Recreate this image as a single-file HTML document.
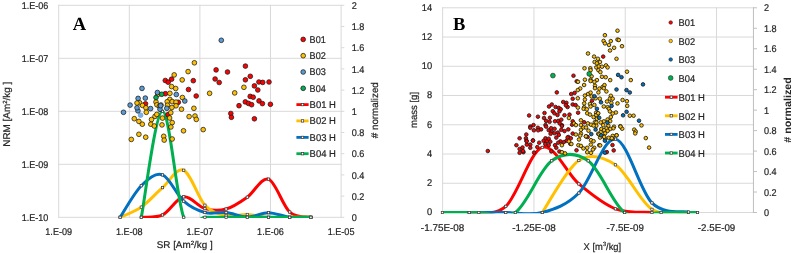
<!DOCTYPE html>
<html><head><meta charset="utf-8"><style>
html,body{margin:0;padding:0;background:#fff;width:794px;height:253px;overflow:hidden;}
svg{display:block;will-change:transform;text-rendering:geometricPrecision;}
</style></head><body>
<svg width="794" height="253" viewBox="0 0 794 253"><line x1="58.2" y1="5.3" x2="341.6" y2="5.3" stroke="#d9d9d9" stroke-width="1"/>
<line x1="58.2" y1="58.3" x2="341.6" y2="58.3" stroke="#d9d9d9" stroke-width="1"/>
<line x1="58.2" y1="111.3" x2="341.6" y2="111.3" stroke="#d9d9d9" stroke-width="1"/>
<line x1="58.2" y1="164.3" x2="341.6" y2="164.3" stroke="#d9d9d9" stroke-width="1"/>
<line x1="58.2" y1="217.3" x2="341.6" y2="217.3" stroke="#d9d9d9" stroke-width="1"/>
<line x1="58.7" y1="4.8" x2="58.7" y2="217.8" stroke="#d9d9d9" stroke-width="1"/>
<line x1="129.3" y1="4.8" x2="129.3" y2="217.8" stroke="#d9d9d9" stroke-width="1"/>
<line x1="199.9" y1="4.8" x2="199.9" y2="217.8" stroke="#d9d9d9" stroke-width="1"/>
<line x1="270.5" y1="4.8" x2="270.5" y2="217.8" stroke="#d9d9d9" stroke-width="1"/>
<line x1="341.1" y1="4.8" x2="341.1" y2="217.8" stroke="#d9d9d9" stroke-width="1"/>
<line x1="341.1" y1="217.3" x2="344.3" y2="217.3" stroke="#d9d9d9" stroke-width="1"/>
<line x1="341.1" y1="196.1" x2="344.3" y2="196.1" stroke="#d9d9d9" stroke-width="1"/>
<line x1="341.1" y1="174.9" x2="344.3" y2="174.9" stroke="#d9d9d9" stroke-width="1"/>
<line x1="341.1" y1="153.7" x2="344.3" y2="153.7" stroke="#d9d9d9" stroke-width="1"/>
<line x1="341.1" y1="132.5" x2="344.3" y2="132.5" stroke="#d9d9d9" stroke-width="1"/>
<line x1="341.1" y1="111.3" x2="344.3" y2="111.3" stroke="#d9d9d9" stroke-width="1"/>
<line x1="341.1" y1="90.1" x2="344.3" y2="90.1" stroke="#d9d9d9" stroke-width="1"/>
<line x1="341.1" y1="68.9" x2="344.3" y2="68.9" stroke="#d9d9d9" stroke-width="1"/>
<line x1="341.1" y1="47.7" x2="344.3" y2="47.7" stroke="#d9d9d9" stroke-width="1"/>
<line x1="341.1" y1="26.5" x2="344.3" y2="26.5" stroke="#d9d9d9" stroke-width="1"/>
<line x1="341.1" y1="5.3" x2="344.3" y2="5.3" stroke="#d9d9d9" stroke-width="1"/>
<text x="48.4" y="9.1" font-family='"Liberation Sans", sans-serif' font-size="9.8" font-weight="normal" fill="#262626" text-anchor="end" textLength="26.6" lengthAdjust="spacingAndGlyphs" stroke="#262626" stroke-width="0.22">1.E-06</text>
<text x="48.4" y="62.1" font-family='"Liberation Sans", sans-serif' font-size="9.8" font-weight="normal" fill="#262626" text-anchor="end" textLength="26.6" lengthAdjust="spacingAndGlyphs" stroke="#262626" stroke-width="0.22">1.E-07</text>
<text x="48.4" y="115.1" font-family='"Liberation Sans", sans-serif' font-size="9.8" font-weight="normal" fill="#262626" text-anchor="end" textLength="26.6" lengthAdjust="spacingAndGlyphs" stroke="#262626" stroke-width="0.22">1.E-08</text>
<text x="48.4" y="168.1" font-family='"Liberation Sans", sans-serif' font-size="9.8" font-weight="normal" fill="#262626" text-anchor="end" textLength="26.6" lengthAdjust="spacingAndGlyphs" stroke="#262626" stroke-width="0.22">1.E-09</text>
<text x="48.4" y="221.1" font-family='"Liberation Sans", sans-serif' font-size="9.8" font-weight="normal" fill="#262626" text-anchor="end" textLength="26.6" lengthAdjust="spacingAndGlyphs" stroke="#262626" stroke-width="0.22">1.E-10</text>
<text x="351.7" y="220.9" font-family='"Liberation Sans", sans-serif' font-size="9.8" font-weight="normal" fill="#262626" text-anchor="start" textLength="5.07" lengthAdjust="spacingAndGlyphs" stroke="#262626" stroke-width="0.22">0</text>
<text x="351.7" y="199.7" font-family='"Liberation Sans", sans-serif' font-size="9.8" font-weight="normal" fill="#262626" text-anchor="start" textLength="12.67" lengthAdjust="spacingAndGlyphs" stroke="#262626" stroke-width="0.22">0.2</text>
<text x="351.7" y="178.5" font-family='"Liberation Sans", sans-serif' font-size="9.8" font-weight="normal" fill="#262626" text-anchor="start" textLength="12.67" lengthAdjust="spacingAndGlyphs" stroke="#262626" stroke-width="0.22">0.4</text>
<text x="351.7" y="157.3" font-family='"Liberation Sans", sans-serif' font-size="9.8" font-weight="normal" fill="#262626" text-anchor="start" textLength="12.67" lengthAdjust="spacingAndGlyphs" stroke="#262626" stroke-width="0.22">0.6</text>
<text x="351.7" y="136.1" font-family='"Liberation Sans", sans-serif' font-size="9.8" font-weight="normal" fill="#262626" text-anchor="start" textLength="12.67" lengthAdjust="spacingAndGlyphs" stroke="#262626" stroke-width="0.22">0.8</text>
<text x="351.7" y="114.9" font-family='"Liberation Sans", sans-serif' font-size="9.8" font-weight="normal" fill="#262626" text-anchor="start" textLength="5.07" lengthAdjust="spacingAndGlyphs" stroke="#262626" stroke-width="0.22">1</text>
<text x="351.7" y="93.7" font-family='"Liberation Sans", sans-serif' font-size="9.8" font-weight="normal" fill="#262626" text-anchor="start" textLength="12.67" lengthAdjust="spacingAndGlyphs" stroke="#262626" stroke-width="0.22">1.2</text>
<text x="351.7" y="72.5" font-family='"Liberation Sans", sans-serif' font-size="9.8" font-weight="normal" fill="#262626" text-anchor="start" textLength="12.67" lengthAdjust="spacingAndGlyphs" stroke="#262626" stroke-width="0.22">1.4</text>
<text x="351.7" y="51.3" font-family='"Liberation Sans", sans-serif' font-size="9.8" font-weight="normal" fill="#262626" text-anchor="start" textLength="12.67" lengthAdjust="spacingAndGlyphs" stroke="#262626" stroke-width="0.22">1.6</text>
<text x="351.7" y="30.1" font-family='"Liberation Sans", sans-serif' font-size="9.8" font-weight="normal" fill="#262626" text-anchor="start" textLength="12.67" lengthAdjust="spacingAndGlyphs" stroke="#262626" stroke-width="0.22">1.8</text>
<text x="351.7" y="8.9" font-family='"Liberation Sans", sans-serif' font-size="9.8" font-weight="normal" fill="#262626" text-anchor="start" textLength="5.07" lengthAdjust="spacingAndGlyphs" stroke="#262626" stroke-width="0.22">2</text>
<text x="58.7" y="234.7" font-family='"Liberation Sans", sans-serif' font-size="9.8" font-weight="normal" fill="#262626" text-anchor="middle" textLength="26.8" lengthAdjust="spacingAndGlyphs" stroke="#262626" stroke-width="0.22">1.E-09</text>
<text x="129.3" y="234.7" font-family='"Liberation Sans", sans-serif' font-size="9.8" font-weight="normal" fill="#262626" text-anchor="middle" textLength="26.8" lengthAdjust="spacingAndGlyphs" stroke="#262626" stroke-width="0.22">1.E-08</text>
<text x="199.9" y="234.7" font-family='"Liberation Sans", sans-serif' font-size="9.8" font-weight="normal" fill="#262626" text-anchor="middle" textLength="26.8" lengthAdjust="spacingAndGlyphs" stroke="#262626" stroke-width="0.22">1.E-07</text>
<text x="270.5" y="234.7" font-family='"Liberation Sans", sans-serif' font-size="9.8" font-weight="normal" fill="#262626" text-anchor="middle" textLength="26.8" lengthAdjust="spacingAndGlyphs" stroke="#262626" stroke-width="0.22">1.E-06</text>
<text x="341.1" y="234.7" font-family='"Liberation Sans", sans-serif' font-size="9.8" font-weight="normal" fill="#262626" text-anchor="middle" textLength="26.8" lengthAdjust="spacingAndGlyphs" stroke="#262626" stroke-width="0.22">1.E-05</text>
<text x="184.7" y="248.3" font-family='"Liberation Sans", sans-serif' font-size="9.8" font-weight="normal" fill="#262626" text-anchor="middle" textLength="56" lengthAdjust="spacingAndGlyphs" stroke="#262626" stroke-width="0.22">SR [Am<tspan font-size="6" dy="-3.2">2</tspan><tspan dy="3.2">/kg ]</tspan></text>
<text x="9.7" y="114.2" font-family='"Liberation Sans", sans-serif' font-size="9.8" font-weight="normal" fill="#262626" text-anchor="middle" transform="rotate(-90 9.7 114.2)" textLength="65.2" lengthAdjust="spacingAndGlyphs" stroke="#262626" stroke-width="0.22">NRM [Am<tspan font-size="6" dy="-3.2">2</tspan><tspan dy="3.2">/kg ]</tspan></text>
<text x="377.7" y="110.2" font-family='"Liberation Sans", sans-serif' font-size="9.8" font-weight="normal" fill="#262626" text-anchor="middle" transform="rotate(-90 377.7 110.2)" textLength="56" lengthAdjust="spacingAndGlyphs" stroke="#262626" stroke-width="0.22"># normalized</text>
<text x="79.5" y="29.9" font-family='"Liberation Serif", serif' font-size="18.5" font-weight="bold" fill="#000" text-anchor="middle">A</text>
<clipPath id="ca"><rect x="58.7" y="5.3" width="282.4" height="212.7"/></clipPath>
<g clip-path="url(#ca)">
<path d="M141.3 217.3 C144.83 216.91 155.43 218.38 162.5 214.97 C169.57 211.56 176.63 197.9 183.7 196.84 C190.77 195.78 197.83 206.58 204.9 208.61 C211.97 210.64 219.03 210.94 226.1 209.03 C233.17 207.12 240.23 202.14 247.3 197.16 C254.37 192.18 261.43 176.67 268.5 179.14 C275.57 181.61 282.63 205.64 289.7 212 C296.77 218.36 307.37 216.42 310.9 217.3" fill="none" stroke="#ff0000" stroke-width="3.0" stroke-linecap="round" stroke-linejoin="round"/>
<path d="M120.1 217.3 C123.63 215.6 134.23 212.07 141.3 207.12 C148.37 202.18 155.43 193.77 162.5 187.62 C169.57 181.47 176.63 167.3 183.7 170.24 C190.77 173.17 197.83 197.69 204.9 205.22 C211.97 212.74 219.03 213.86 226.1 215.39 C233.17 216.93 240.23 214.12 247.3 214.44 C254.37 214.76 261.43 216.82 268.5 217.3 C275.57 217.78 282.63 217.3 289.7 217.3 C296.77 217.3 307.37 217.3 310.9 217.3" fill="none" stroke="#ffc000" stroke-width="3.0" stroke-linecap="round" stroke-linejoin="round"/>
<path d="M120.1 217.3 C123.63 212.04 134.23 192.78 141.3 185.71 C148.37 178.65 155.43 172.32 162.5 174.9 C169.57 177.48 176.63 194.92 183.7 201.19 C190.77 207.46 197.83 210.64 204.9 212.53 C211.97 214.42 219.03 211.79 226.1 212.53 C233.17 213.27 240.23 216.96 247.3 216.98 C254.37 217 261.43 212.58 268.5 212.64 C275.57 212.69 282.63 216.52 289.7 217.3 C296.77 218.08 307.37 217.3 310.9 217.3" fill="none" stroke="#0070c0" stroke-width="3.0" stroke-linecap="round" stroke-linejoin="round"/>
<path d="M141.3 217.3 C144.83 199.63 155.43 111.3 162.5 111.3 C169.57 111.3 176.63 199.63 183.7 217.3 C190.77 234.97 197.83 217.3 204.9 217.3 C211.97 217.3 219.03 217.3 226.1 217.3 C233.17 217.3 240.23 217.3 247.3 217.3 C254.37 217.3 261.43 217.3 268.5 217.3 C275.57 217.3 282.63 217.3 289.7 217.3 C296.77 217.3 307.37 217.3 310.9 217.3" fill="none" stroke="#00b050" stroke-width="3.0" stroke-linecap="round" stroke-linejoin="round"/>
</g>
<rect x="140.15" y="216.15" width="2.3" height="2.3" fill="#fff" stroke="#3a3a3a" stroke-width="0.7"/>
<rect x="161.35" y="213.82" width="2.3" height="2.3" fill="#fff" stroke="#3a3a3a" stroke-width="0.7"/>
<rect x="182.55" y="195.69" width="2.3" height="2.3" fill="#fff" stroke="#3a3a3a" stroke-width="0.7"/>
<rect x="203.75" y="207.46" width="2.3" height="2.3" fill="#fff" stroke="#3a3a3a" stroke-width="0.7"/>
<rect x="224.95" y="207.88" width="2.3" height="2.3" fill="#fff" stroke="#3a3a3a" stroke-width="0.7"/>
<rect x="246.15" y="196.01" width="2.3" height="2.3" fill="#fff" stroke="#3a3a3a" stroke-width="0.7"/>
<rect x="267.35" y="177.99" width="2.3" height="2.3" fill="#fff" stroke="#3a3a3a" stroke-width="0.7"/>
<rect x="288.55" y="210.85" width="2.3" height="2.3" fill="#fff" stroke="#3a3a3a" stroke-width="0.7"/>
<rect x="309.75" y="216.15" width="2.3" height="2.3" fill="#fff" stroke="#3a3a3a" stroke-width="0.7"/>
<rect x="118.95" y="216.15" width="2.3" height="2.3" fill="#fff" stroke="#3a3a3a" stroke-width="0.7"/>
<rect x="140.15" y="205.97" width="2.3" height="2.3" fill="#fff" stroke="#3a3a3a" stroke-width="0.7"/>
<rect x="161.35" y="186.47" width="2.3" height="2.3" fill="#fff" stroke="#3a3a3a" stroke-width="0.7"/>
<rect x="182.55" y="169.09" width="2.3" height="2.3" fill="#fff" stroke="#3a3a3a" stroke-width="0.7"/>
<rect x="203.75" y="204.07" width="2.3" height="2.3" fill="#fff" stroke="#3a3a3a" stroke-width="0.7"/>
<rect x="224.95" y="214.24" width="2.3" height="2.3" fill="#fff" stroke="#3a3a3a" stroke-width="0.7"/>
<rect x="246.15" y="213.29" width="2.3" height="2.3" fill="#fff" stroke="#3a3a3a" stroke-width="0.7"/>
<rect x="267.35" y="216.15" width="2.3" height="2.3" fill="#fff" stroke="#3a3a3a" stroke-width="0.7"/>
<rect x="288.55" y="216.15" width="2.3" height="2.3" fill="#fff" stroke="#3a3a3a" stroke-width="0.7"/>
<rect x="309.75" y="216.15" width="2.3" height="2.3" fill="#fff" stroke="#3a3a3a" stroke-width="0.7"/>
<rect x="118.95" y="216.15" width="2.3" height="2.3" fill="#fff" stroke="#3a3a3a" stroke-width="0.7"/>
<rect x="140.15" y="184.56" width="2.3" height="2.3" fill="#fff" stroke="#3a3a3a" stroke-width="0.7"/>
<rect x="161.35" y="173.75" width="2.3" height="2.3" fill="#fff" stroke="#3a3a3a" stroke-width="0.7"/>
<rect x="182.55" y="200.04" width="2.3" height="2.3" fill="#fff" stroke="#3a3a3a" stroke-width="0.7"/>
<rect x="203.75" y="211.38" width="2.3" height="2.3" fill="#fff" stroke="#3a3a3a" stroke-width="0.7"/>
<rect x="224.95" y="211.38" width="2.3" height="2.3" fill="#fff" stroke="#3a3a3a" stroke-width="0.7"/>
<rect x="246.15" y="215.83" width="2.3" height="2.3" fill="#fff" stroke="#3a3a3a" stroke-width="0.7"/>
<rect x="267.35" y="211.49" width="2.3" height="2.3" fill="#fff" stroke="#3a3a3a" stroke-width="0.7"/>
<rect x="288.55" y="216.15" width="2.3" height="2.3" fill="#fff" stroke="#3a3a3a" stroke-width="0.7"/>
<rect x="309.75" y="216.15" width="2.3" height="2.3" fill="#fff" stroke="#3a3a3a" stroke-width="0.7"/>
<rect x="140.15" y="216.15" width="2.3" height="2.3" fill="#fff" stroke="#3a3a3a" stroke-width="0.7"/>
<rect x="161.35" y="110.15" width="2.3" height="2.3" fill="#fff" stroke="#3a3a3a" stroke-width="0.7"/>
<rect x="182.55" y="216.15" width="2.3" height="2.3" fill="#fff" stroke="#3a3a3a" stroke-width="0.7"/>
<rect x="203.75" y="216.15" width="2.3" height="2.3" fill="#fff" stroke="#3a3a3a" stroke-width="0.7"/>
<rect x="224.95" y="216.15" width="2.3" height="2.3" fill="#fff" stroke="#3a3a3a" stroke-width="0.7"/>
<rect x="246.15" y="216.15" width="2.3" height="2.3" fill="#fff" stroke="#3a3a3a" stroke-width="0.7"/>
<rect x="267.35" y="216.15" width="2.3" height="2.3" fill="#fff" stroke="#3a3a3a" stroke-width="0.7"/>
<rect x="288.55" y="216.15" width="2.3" height="2.3" fill="#fff" stroke="#3a3a3a" stroke-width="0.7"/>
<rect x="309.75" y="216.15" width="2.3" height="2.3" fill="#fff" stroke="#3a3a3a" stroke-width="0.7"/>
<circle cx="216.1" cy="69.9" r="2.35" fill="#ff0000" stroke="#1a1a1a" stroke-width="0.75"/>
<circle cx="227.5" cy="72" r="2.35" fill="#ff0000" stroke="#1a1a1a" stroke-width="0.75"/>
<circle cx="245.4" cy="66.1" r="2.35" fill="#ff0000" stroke="#1a1a1a" stroke-width="0.75"/>
<circle cx="215.1" cy="79" r="2.35" fill="#ff0000" stroke="#1a1a1a" stroke-width="0.75"/>
<circle cx="219.2" cy="82.5" r="2.35" fill="#ff0000" stroke="#1a1a1a" stroke-width="0.75"/>
<circle cx="250.3" cy="76.3" r="2.35" fill="#ff0000" stroke="#1a1a1a" stroke-width="0.75"/>
<circle cx="245.4" cy="79.8" r="2.35" fill="#ff0000" stroke="#1a1a1a" stroke-width="0.75"/>
<circle cx="254.4" cy="85.9" r="2.35" fill="#ff0000" stroke="#1a1a1a" stroke-width="0.75"/>
<circle cx="258.9" cy="82" r="2.35" fill="#ff0000" stroke="#1a1a1a" stroke-width="0.75"/>
<circle cx="262.7" cy="82.4" r="2.35" fill="#ff0000" stroke="#1a1a1a" stroke-width="0.75"/>
<circle cx="269" cy="82" r="2.35" fill="#ff0000" stroke="#1a1a1a" stroke-width="0.75"/>
<circle cx="257.8" cy="90" r="2.35" fill="#ff0000" stroke="#1a1a1a" stroke-width="0.75"/>
<circle cx="250.2" cy="96.4" r="2.35" fill="#ff0000" stroke="#1a1a1a" stroke-width="0.75"/>
<circle cx="253.2" cy="97.2" r="2.35" fill="#ff0000" stroke="#1a1a1a" stroke-width="0.75"/>
<circle cx="245.3" cy="101.9" r="2.35" fill="#ff0000" stroke="#1a1a1a" stroke-width="0.75"/>
<circle cx="248.5" cy="103.4" r="2.35" fill="#ff0000" stroke="#1a1a1a" stroke-width="0.75"/>
<circle cx="251.6" cy="104.7" r="2.35" fill="#ff0000" stroke="#1a1a1a" stroke-width="0.75"/>
<circle cx="239" cy="105.7" r="2.35" fill="#ff0000" stroke="#1a1a1a" stroke-width="0.75"/>
<circle cx="259" cy="100.9" r="2.35" fill="#ff0000" stroke="#1a1a1a" stroke-width="0.75"/>
<circle cx="262.4" cy="103.6" r="2.35" fill="#ff0000" stroke="#1a1a1a" stroke-width="0.75"/>
<circle cx="270.4" cy="104.3" r="2.35" fill="#ff0000" stroke="#1a1a1a" stroke-width="0.75"/>
<circle cx="230.8" cy="113.5" r="2.35" fill="#ff0000" stroke="#1a1a1a" stroke-width="0.75"/>
<circle cx="231.4" cy="117.3" r="2.35" fill="#ff0000" stroke="#1a1a1a" stroke-width="0.75"/>
<circle cx="254.4" cy="118.8" r="2.35" fill="#ff0000" stroke="#1a1a1a" stroke-width="0.75"/>
<circle cx="193.3" cy="80.7" r="2.35" fill="#ff0000" stroke="#1a1a1a" stroke-width="0.75"/>
<circle cx="196.2" cy="96" r="2.35" fill="#ff0000" stroke="#1a1a1a" stroke-width="0.75"/>
<circle cx="188.5" cy="89.5" r="2.35" fill="#ff0000" stroke="#1a1a1a" stroke-width="0.75"/>
<circle cx="171.6" cy="79.2" r="2.35" fill="#ff0000" stroke="#1a1a1a" stroke-width="0.75"/>
<circle cx="165.3" cy="80.5" r="2.35" fill="#ff0000" stroke="#1a1a1a" stroke-width="0.75"/>
<circle cx="168.2" cy="82.2" r="2.35" fill="#ff0000" stroke="#1a1a1a" stroke-width="0.75"/>
<circle cx="165.4" cy="93.7" r="2.35" fill="#ff0000" stroke="#1a1a1a" stroke-width="0.75"/>
<circle cx="145.5" cy="103.8" r="2.35" fill="#ff0000" stroke="#1a1a1a" stroke-width="0.75"/>
<circle cx="178.3" cy="102.3" r="2.35" fill="#ff0000" stroke="#1a1a1a" stroke-width="0.75"/>
<circle cx="168" cy="114.7" r="2.35" fill="#ff0000" stroke="#1a1a1a" stroke-width="0.75"/>
<circle cx="194.4" cy="62.8" r="2.35" fill="#ffc000" stroke="#1a1a1a" stroke-width="0.75"/>
<circle cx="188.1" cy="71.6" r="2.35" fill="#ffc000" stroke="#1a1a1a" stroke-width="0.75"/>
<circle cx="174.2" cy="74.9" r="2.35" fill="#ffc000" stroke="#1a1a1a" stroke-width="0.75"/>
<circle cx="182.2" cy="79.9" r="2.35" fill="#ffc000" stroke="#1a1a1a" stroke-width="0.75"/>
<circle cx="171.6" cy="86.6" r="2.35" fill="#ffc000" stroke="#1a1a1a" stroke-width="0.75"/>
<circle cx="175.7" cy="88.5" r="2.35" fill="#ffc000" stroke="#1a1a1a" stroke-width="0.75"/>
<circle cx="169.9" cy="93.3" r="2.35" fill="#ffc000" stroke="#1a1a1a" stroke-width="0.75"/>
<circle cx="157.9" cy="94.4" r="2.35" fill="#ffc000" stroke="#1a1a1a" stroke-width="0.75"/>
<circle cx="182.4" cy="97.5" r="2.35" fill="#ffc000" stroke="#1a1a1a" stroke-width="0.75"/>
<circle cx="209.6" cy="93.3" r="2.35" fill="#ffc000" stroke="#1a1a1a" stroke-width="0.75"/>
<circle cx="234.7" cy="92.9" r="2.35" fill="#ffc000" stroke="#1a1a1a" stroke-width="0.75"/>
<circle cx="243.9" cy="87.3" r="2.35" fill="#ffc000" stroke="#1a1a1a" stroke-width="0.75"/>
<circle cx="169.8" cy="99.4" r="2.35" fill="#ffc000" stroke="#1a1a1a" stroke-width="0.75"/>
<circle cx="167.2" cy="101.7" r="2.35" fill="#ffc000" stroke="#1a1a1a" stroke-width="0.75"/>
<circle cx="172.2" cy="101.6" r="2.35" fill="#ffc000" stroke="#1a1a1a" stroke-width="0.75"/>
<circle cx="176" cy="102.1" r="2.35" fill="#ffc000" stroke="#1a1a1a" stroke-width="0.75"/>
<circle cx="167.5" cy="105.2" r="2.35" fill="#ffc000" stroke="#1a1a1a" stroke-width="0.75"/>
<circle cx="176" cy="105.8" r="2.35" fill="#ffc000" stroke="#1a1a1a" stroke-width="0.75"/>
<circle cx="171.9" cy="107.5" r="2.35" fill="#ffc000" stroke="#1a1a1a" stroke-width="0.75"/>
<circle cx="181.5" cy="109.2" r="2.35" fill="#ffc000" stroke="#1a1a1a" stroke-width="0.75"/>
<circle cx="193.9" cy="108.3" r="2.35" fill="#ffc000" stroke="#1a1a1a" stroke-width="0.75"/>
<circle cx="170.8" cy="112.7" r="2.35" fill="#ffc000" stroke="#1a1a1a" stroke-width="0.75"/>
<circle cx="189.1" cy="116.6" r="2.35" fill="#ffc000" stroke="#1a1a1a" stroke-width="0.75"/>
<circle cx="195" cy="116" r="2.35" fill="#ffc000" stroke="#1a1a1a" stroke-width="0.75"/>
<circle cx="196.3" cy="119.4" r="2.35" fill="#ffc000" stroke="#1a1a1a" stroke-width="0.75"/>
<circle cx="203.2" cy="129.6" r="2.35" fill="#ffc000" stroke="#1a1a1a" stroke-width="0.75"/>
<circle cx="162.5" cy="118.1" r="2.35" fill="#ffc000" stroke="#1a1a1a" stroke-width="0.75"/>
<circle cx="169.6" cy="118" r="2.35" fill="#ffc000" stroke="#1a1a1a" stroke-width="0.75"/>
<circle cx="156" cy="102" r="2.35" fill="#ffc000" stroke="#1a1a1a" stroke-width="0.75"/>
<circle cx="156.9" cy="104.8" r="2.35" fill="#ffc000" stroke="#1a1a1a" stroke-width="0.75"/>
<circle cx="159.4" cy="106.3" r="2.35" fill="#ffc000" stroke="#1a1a1a" stroke-width="0.75"/>
<circle cx="161" cy="105" r="2.35" fill="#ffc000" stroke="#1a1a1a" stroke-width="0.75"/>
<circle cx="139.5" cy="102.7" r="2.35" fill="#ffc000" stroke="#1a1a1a" stroke-width="0.75"/>
<circle cx="142.5" cy="105.4" r="2.35" fill="#ffc000" stroke="#1a1a1a" stroke-width="0.75"/>
<circle cx="145.9" cy="107.8" r="2.35" fill="#ffc000" stroke="#1a1a1a" stroke-width="0.75"/>
<circle cx="146.3" cy="112.3" r="2.35" fill="#ffc000" stroke="#1a1a1a" stroke-width="0.75"/>
<circle cx="137" cy="103" r="2.35" fill="#ffc000" stroke="#1a1a1a" stroke-width="0.75"/>
<circle cx="134.3" cy="118.7" r="2.35" fill="#ffc000" stroke="#1a1a1a" stroke-width="0.75"/>
<circle cx="138.9" cy="121.4" r="2.35" fill="#ffc000" stroke="#1a1a1a" stroke-width="0.75"/>
<circle cx="142.3" cy="124.2" r="2.35" fill="#ffc000" stroke="#1a1a1a" stroke-width="0.75"/>
<circle cx="151.5" cy="119.5" r="2.35" fill="#ffc000" stroke="#1a1a1a" stroke-width="0.75"/>
<circle cx="155" cy="116.4" r="2.35" fill="#ffc000" stroke="#1a1a1a" stroke-width="0.75"/>
<circle cx="156.8" cy="114.4" r="2.35" fill="#ffc000" stroke="#1a1a1a" stroke-width="0.75"/>
<circle cx="150.8" cy="124.2" r="2.35" fill="#ffc000" stroke="#1a1a1a" stroke-width="0.75"/>
<circle cx="154.3" cy="126" r="2.35" fill="#ffc000" stroke="#1a1a1a" stroke-width="0.75"/>
<circle cx="162" cy="124.9" r="2.35" fill="#ffc000" stroke="#1a1a1a" stroke-width="0.75"/>
<circle cx="172.2" cy="122.6" r="2.35" fill="#ffc000" stroke="#1a1a1a" stroke-width="0.75"/>
<circle cx="170.9" cy="127" r="2.35" fill="#ffc000" stroke="#1a1a1a" stroke-width="0.75"/>
<circle cx="163.7" cy="136.3" r="2.35" fill="#ffc000" stroke="#1a1a1a" stroke-width="0.75"/>
<circle cx="164.2" cy="140.1" r="2.35" fill="#ffc000" stroke="#1a1a1a" stroke-width="0.75"/>
<circle cx="172.2" cy="139" r="2.35" fill="#ffc000" stroke="#1a1a1a" stroke-width="0.75"/>
<circle cx="183.5" cy="130.8" r="2.35" fill="#ffc000" stroke="#1a1a1a" stroke-width="0.75"/>
<circle cx="138.9" cy="134.3" r="2.35" fill="#ffc000" stroke="#1a1a1a" stroke-width="0.75"/>
<circle cx="145.7" cy="137.2" r="2.35" fill="#ffc000" stroke="#1a1a1a" stroke-width="0.75"/>
<circle cx="131.3" cy="139.4" r="2.35" fill="#ffc000" stroke="#1a1a1a" stroke-width="0.75"/>
<circle cx="140.6" cy="115.2" r="2.35" fill="#7fb2e0" stroke="#6a9fd0" stroke-width="0.75"/>
<circle cx="221.3" cy="40.3" r="2.35" fill="#5b9bd5" stroke="#1a1a1a" stroke-width="0.75"/>
<circle cx="142" cy="88.4" r="2.35" fill="#5b9bd5" stroke="#1a1a1a" stroke-width="0.75"/>
<circle cx="138.1" cy="98.4" r="2.35" fill="#5b9bd5" stroke="#1a1a1a" stroke-width="0.75"/>
<circle cx="145.3" cy="98.1" r="2.35" fill="#5b9bd5" stroke="#1a1a1a" stroke-width="0.75"/>
<circle cx="130.1" cy="105.1" r="2.35" fill="#5b9bd5" stroke="#1a1a1a" stroke-width="0.75"/>
<circle cx="123.5" cy="112.3" r="2.35" fill="#5b9bd5" stroke="#1a1a1a" stroke-width="0.75"/>
<circle cx="157.4" cy="92.5" r="2.35" fill="#5b9bd5" stroke="#1a1a1a" stroke-width="0.75"/>
<circle cx="137.9" cy="110.8" r="2.35" fill="#5b9bd5" stroke="#1a1a1a" stroke-width="0.75"/>
<circle cx="150.6" cy="108.6" r="2.35" fill="#5b9bd5" stroke="#1a1a1a" stroke-width="0.75"/>
<circle cx="160" cy="109.3" r="2.35" fill="#5b9bd5" stroke="#1a1a1a" stroke-width="0.75"/>
<circle cx="166.8" cy="108.3" r="2.35" fill="#5b9bd5" stroke="#1a1a1a" stroke-width="0.75"/>
<circle cx="176.3" cy="94.5" r="2.35" fill="#5b9bd5" stroke="#1a1a1a" stroke-width="0.75"/>
<circle cx="184.8" cy="101" r="2.35" fill="#5b9bd5" stroke="#1a1a1a" stroke-width="0.75"/>
<circle cx="137" cy="107.8" r="2.35" fill="#5b9bd5" stroke="#1a1a1a" stroke-width="0.75"/>
<circle cx="160.6" cy="105.7" r="2.35" fill="#5b9bd5" stroke="#1a1a1a" stroke-width="0.75"/>
<circle cx="161.7" cy="94.3" r="2.35" fill="#00b050" stroke="#1a1a1a" stroke-width="0.75"/>
<circle cx="156" cy="97.5" r="2.35" fill="#00b050" stroke="#1a1a1a" stroke-width="0.75"/>
<circle cx="303.2" cy="39.4" r="2.35" fill="#ff0000" stroke="#1a1a1a" stroke-width="0.75"/>
<text x="309.6" y="42.8" font-family='"Liberation Sans", sans-serif' font-size="9.8" font-weight="normal" fill="#262626" text-anchor="start" textLength="16.2" lengthAdjust="spacingAndGlyphs" stroke="#262626" stroke-width="0.22">B01</text>
<circle cx="303.2" cy="55.7" r="2.35" fill="#ffc000" stroke="#1a1a1a" stroke-width="0.75"/>
<text x="309.6" y="59.1" font-family='"Liberation Sans", sans-serif' font-size="9.8" font-weight="normal" fill="#262626" text-anchor="start" textLength="16.2" lengthAdjust="spacingAndGlyphs" stroke="#262626" stroke-width="0.22">B02</text>
<circle cx="303.2" cy="72" r="2.35" fill="#5b9bd5" stroke="#1a1a1a" stroke-width="0.75"/>
<text x="309.6" y="75.4" font-family='"Liberation Sans", sans-serif' font-size="9.8" font-weight="normal" fill="#262626" text-anchor="start" textLength="16.2" lengthAdjust="spacingAndGlyphs" stroke="#262626" stroke-width="0.22">B03</text>
<circle cx="303.2" cy="88.3" r="2.35" fill="#00b050" stroke="#1a1a1a" stroke-width="0.75"/>
<text x="309.6" y="91.7" font-family='"Liberation Sans", sans-serif' font-size="9.8" font-weight="normal" fill="#262626" text-anchor="start" textLength="16.2" lengthAdjust="spacingAndGlyphs" stroke="#262626" stroke-width="0.22">B04</text>
<line x1="296.4" y1="104.6" x2="308.6" y2="104.6" stroke="#ff0000" stroke-width="2.8"/>
<rect x="301.3" y="103.4" width="2.4" height="2.4" fill="#fff" stroke="#3a3a3a" stroke-width="0.7"/>
<text x="309.6" y="108" font-family='"Liberation Sans", sans-serif' font-size="9.8" font-weight="normal" fill="#262626" text-anchor="start" textLength="26.3" lengthAdjust="spacingAndGlyphs" stroke="#262626" stroke-width="0.22">B01 H</text>
<line x1="296.4" y1="120.9" x2="308.6" y2="120.9" stroke="#ffc000" stroke-width="2.8"/>
<rect x="301.3" y="119.7" width="2.4" height="2.4" fill="#fff" stroke="#3a3a3a" stroke-width="0.7"/>
<text x="309.6" y="124.3" font-family='"Liberation Sans", sans-serif' font-size="9.8" font-weight="normal" fill="#262626" text-anchor="start" textLength="26.3" lengthAdjust="spacingAndGlyphs" stroke="#262626" stroke-width="0.22">B02 H</text>
<line x1="296.4" y1="137.4" x2="308.6" y2="137.4" stroke="#0070c0" stroke-width="2.8"/>
<rect x="301.3" y="136.2" width="2.4" height="2.4" fill="#fff" stroke="#3a3a3a" stroke-width="0.7"/>
<text x="309.6" y="140.8" font-family='"Liberation Sans", sans-serif' font-size="9.8" font-weight="normal" fill="#262626" text-anchor="start" textLength="26.3" lengthAdjust="spacingAndGlyphs" stroke="#262626" stroke-width="0.22">B03 H</text>
<line x1="296.4" y1="153.7" x2="308.6" y2="153.7" stroke="#00b050" stroke-width="2.8"/>
<rect x="301.3" y="152.5" width="2.4" height="2.4" fill="#fff" stroke="#3a3a3a" stroke-width="0.7"/>
<text x="309.6" y="157.1" font-family='"Liberation Sans", sans-serif' font-size="9.8" font-weight="normal" fill="#262626" text-anchor="start" textLength="26.3" lengthAdjust="spacingAndGlyphs" stroke="#262626" stroke-width="0.22">B04 H</text>
<line x1="442.14" y1="7.8" x2="753.95" y2="7.8" stroke="#d9d9d9" stroke-width="1"/>
<line x1="442.14" y1="37.04" x2="753.95" y2="37.04" stroke="#d9d9d9" stroke-width="1"/>
<line x1="442.14" y1="66.29" x2="753.95" y2="66.29" stroke="#d9d9d9" stroke-width="1"/>
<line x1="442.14" y1="95.53" x2="753.95" y2="95.53" stroke="#d9d9d9" stroke-width="1"/>
<line x1="442.14" y1="124.77" x2="753.95" y2="124.77" stroke="#d9d9d9" stroke-width="1"/>
<line x1="442.14" y1="154.01" x2="753.95" y2="154.01" stroke="#d9d9d9" stroke-width="1"/>
<line x1="442.14" y1="183.26" x2="753.95" y2="183.26" stroke="#d9d9d9" stroke-width="1"/>
<line x1="442.14" y1="212.5" x2="753.95" y2="212.5" stroke="#d9d9d9" stroke-width="1"/>
<line x1="442.64" y1="7.3" x2="442.64" y2="213" stroke="#d9d9d9" stroke-width="1"/>
<line x1="533.94" y1="7.3" x2="533.94" y2="213" stroke="#d9d9d9" stroke-width="1"/>
<line x1="625.24" y1="7.3" x2="625.24" y2="213" stroke="#d9d9d9" stroke-width="1"/>
<line x1="716.54" y1="7.3" x2="716.54" y2="213" stroke="#d9d9d9" stroke-width="1"/>
<line x1="753.45" y1="7.3" x2="753.45" y2="213" stroke="#bfbfbf" stroke-width="1"/>
<line x1="753.45" y1="212.5" x2="756.95" y2="212.5" stroke="#bfbfbf" stroke-width="1"/>
<line x1="753.45" y1="192.03" x2="756.95" y2="192.03" stroke="#bfbfbf" stroke-width="1"/>
<line x1="753.45" y1="171.56" x2="756.95" y2="171.56" stroke="#bfbfbf" stroke-width="1"/>
<line x1="753.45" y1="151.09" x2="756.95" y2="151.09" stroke="#bfbfbf" stroke-width="1"/>
<line x1="753.45" y1="130.62" x2="756.95" y2="130.62" stroke="#bfbfbf" stroke-width="1"/>
<line x1="753.45" y1="110.15" x2="756.95" y2="110.15" stroke="#bfbfbf" stroke-width="1"/>
<line x1="753.45" y1="89.68" x2="756.95" y2="89.68" stroke="#bfbfbf" stroke-width="1"/>
<line x1="753.45" y1="69.21" x2="756.95" y2="69.21" stroke="#bfbfbf" stroke-width="1"/>
<line x1="753.45" y1="48.74" x2="756.95" y2="48.74" stroke="#bfbfbf" stroke-width="1"/>
<line x1="753.45" y1="28.27" x2="756.95" y2="28.27" stroke="#bfbfbf" stroke-width="1"/>
<line x1="753.45" y1="7.8" x2="756.95" y2="7.8" stroke="#bfbfbf" stroke-width="1"/>
<text x="432.1" y="10.7" font-family='"Liberation Sans", sans-serif' font-size="9.8" font-weight="normal" fill="#262626" text-anchor="end" textLength="10.36" lengthAdjust="spacingAndGlyphs" stroke="#262626" stroke-width="0.22">14</text>
<text x="432.1" y="39.94" font-family='"Liberation Sans", sans-serif' font-size="9.8" font-weight="normal" fill="#262626" text-anchor="end" textLength="10.36" lengthAdjust="spacingAndGlyphs" stroke="#262626" stroke-width="0.22">12</text>
<text x="432.1" y="69.19" font-family='"Liberation Sans", sans-serif' font-size="9.8" font-weight="normal" fill="#262626" text-anchor="end" textLength="10.36" lengthAdjust="spacingAndGlyphs" stroke="#262626" stroke-width="0.22">10</text>
<text x="432.1" y="98.43" font-family='"Liberation Sans", sans-serif' font-size="9.8" font-weight="normal" fill="#262626" text-anchor="end" textLength="5.18" lengthAdjust="spacingAndGlyphs" stroke="#262626" stroke-width="0.22">8</text>
<text x="432.1" y="127.67" font-family='"Liberation Sans", sans-serif' font-size="9.8" font-weight="normal" fill="#262626" text-anchor="end" textLength="5.18" lengthAdjust="spacingAndGlyphs" stroke="#262626" stroke-width="0.22">6</text>
<text x="432.1" y="156.91" font-family='"Liberation Sans", sans-serif' font-size="9.8" font-weight="normal" fill="#262626" text-anchor="end" textLength="5.18" lengthAdjust="spacingAndGlyphs" stroke="#262626" stroke-width="0.22">4</text>
<text x="432.1" y="186.16" font-family='"Liberation Sans", sans-serif' font-size="9.8" font-weight="normal" fill="#262626" text-anchor="end" textLength="5.18" lengthAdjust="spacingAndGlyphs" stroke="#262626" stroke-width="0.22">2</text>
<text x="432.1" y="215.4" font-family='"Liberation Sans", sans-serif' font-size="9.8" font-weight="normal" fill="#262626" text-anchor="end" textLength="5.18" lengthAdjust="spacingAndGlyphs" stroke="#262626" stroke-width="0.22">0</text>
<text x="764" y="216.1" font-family='"Liberation Sans", sans-serif' font-size="9.8" font-weight="normal" fill="#262626" text-anchor="start" textLength="5.07" lengthAdjust="spacingAndGlyphs" stroke="#262626" stroke-width="0.22">0</text>
<text x="764" y="195.63" font-family='"Liberation Sans", sans-serif' font-size="9.8" font-weight="normal" fill="#262626" text-anchor="start" textLength="12.67" lengthAdjust="spacingAndGlyphs" stroke="#262626" stroke-width="0.22">0.2</text>
<text x="764" y="175.16" font-family='"Liberation Sans", sans-serif' font-size="9.8" font-weight="normal" fill="#262626" text-anchor="start" textLength="12.67" lengthAdjust="spacingAndGlyphs" stroke="#262626" stroke-width="0.22">0.4</text>
<text x="764" y="154.69" font-family='"Liberation Sans", sans-serif' font-size="9.8" font-weight="normal" fill="#262626" text-anchor="start" textLength="12.67" lengthAdjust="spacingAndGlyphs" stroke="#262626" stroke-width="0.22">0.6</text>
<text x="764" y="134.22" font-family='"Liberation Sans", sans-serif' font-size="9.8" font-weight="normal" fill="#262626" text-anchor="start" textLength="12.67" lengthAdjust="spacingAndGlyphs" stroke="#262626" stroke-width="0.22">0.8</text>
<text x="764" y="113.75" font-family='"Liberation Sans", sans-serif' font-size="9.8" font-weight="normal" fill="#262626" text-anchor="start" textLength="5.07" lengthAdjust="spacingAndGlyphs" stroke="#262626" stroke-width="0.22">1</text>
<text x="764" y="93.28" font-family='"Liberation Sans", sans-serif' font-size="9.8" font-weight="normal" fill="#262626" text-anchor="start" textLength="12.67" lengthAdjust="spacingAndGlyphs" stroke="#262626" stroke-width="0.22">1.2</text>
<text x="764" y="72.81" font-family='"Liberation Sans", sans-serif' font-size="9.8" font-weight="normal" fill="#262626" text-anchor="start" textLength="12.67" lengthAdjust="spacingAndGlyphs" stroke="#262626" stroke-width="0.22">1.4</text>
<text x="764" y="52.34" font-family='"Liberation Sans", sans-serif' font-size="9.8" font-weight="normal" fill="#262626" text-anchor="start" textLength="12.67" lengthAdjust="spacingAndGlyphs" stroke="#262626" stroke-width="0.22">1.6</text>
<text x="764" y="31.87" font-family='"Liberation Sans", sans-serif' font-size="9.8" font-weight="normal" fill="#262626" text-anchor="start" textLength="12.67" lengthAdjust="spacingAndGlyphs" stroke="#262626" stroke-width="0.22">1.8</text>
<text x="764" y="11.4" font-family='"Liberation Sans", sans-serif' font-size="9.8" font-weight="normal" fill="#262626" text-anchor="start" textLength="5.07" lengthAdjust="spacingAndGlyphs" stroke="#262626" stroke-width="0.22">2</text>
<text x="442.64" y="230.8" font-family='"Liberation Sans", sans-serif' font-size="9.8" font-weight="normal" fill="#262626" text-anchor="middle" textLength="43.5" lengthAdjust="spacingAndGlyphs" stroke="#262626" stroke-width="0.22">-1.75E-08</text>
<text x="533.94" y="230.8" font-family='"Liberation Sans", sans-serif' font-size="9.8" font-weight="normal" fill="#262626" text-anchor="middle" textLength="43.5" lengthAdjust="spacingAndGlyphs" stroke="#262626" stroke-width="0.22">-1.25E-08</text>
<text x="625.24" y="230.8" font-family='"Liberation Sans", sans-serif' font-size="9.8" font-weight="normal" fill="#262626" text-anchor="middle" textLength="37.4" lengthAdjust="spacingAndGlyphs" stroke="#262626" stroke-width="0.22">-7.5E-09</text>
<text x="716.54" y="230.8" font-family='"Liberation Sans", sans-serif' font-size="9.8" font-weight="normal" fill="#262626" text-anchor="middle" textLength="37.4" lengthAdjust="spacingAndGlyphs" stroke="#262626" stroke-width="0.22">-2.5E-09</text>
<text x="602.4" y="249.6" font-family='"Liberation Sans", sans-serif' font-size="9.8" font-weight="normal" fill="#262626" text-anchor="middle" textLength="37.6" lengthAdjust="spacingAndGlyphs" stroke="#262626" stroke-width="0.22">X [m<tspan font-size="6" dy="-3.2">3</tspan><tspan dy="3.2">/kg]</tspan></text>
<text x="416.6" y="110" font-family='"Liberation Sans", sans-serif' font-size="9.8" font-weight="normal" fill="#262626" text-anchor="middle" transform="rotate(-90 416.6 110)" textLength="36.2" lengthAdjust="spacingAndGlyphs" stroke="#262626" stroke-width="0.22">mass [g]</text>
<text x="790.6" y="110" font-family='"Liberation Sans", sans-serif' font-size="10.2" font-weight="bold" fill="#262626" text-anchor="middle" transform="rotate(-90 790.6 110)" textLength="65.5" lengthAdjust="spacingAndGlyphs"># normalized</text>
<text x="459.1" y="30.3" font-family='"Liberation Serif", serif' font-size="18.5" font-weight="bold" fill="#000" text-anchor="middle">B</text>
<clipPath id="cb"><rect x="442.64" y="7.8" width="310.81" height="205.4"/></clipPath>
<g clip-path="url(#cb)">
<path d="M469.2 212.5 C475.29 211.48 493.57 217.21 505.75 206.36 C517.93 195.51 530.12 151.14 542.3 147.41 C554.48 143.67 566.67 173.71 578.85 183.94 C591.03 194.18 603.22 204.06 615.4 208.82 C627.58 213.57 645.86 211.89 651.95 212.5" fill="none" stroke="#ff0000" stroke-width="3.0" stroke-linecap="round" stroke-linejoin="round"/>
<path d="M542.3 212.5 C548.39 203.83 566.67 168.46 578.85 160.51 C591.03 152.56 603.22 156.67 615.4 164.8 C627.58 172.94 639.77 201.38 651.95 209.33 C664.13 217.28 682.41 211.97 688.5 212.5" fill="none" stroke="#ffc000" stroke-width="3.0" stroke-linecap="round" stroke-linejoin="round"/>
<path d="M469.2 212.5 C475.29 212.5 493.57 212.5 505.75 212.5 C517.93 212.5 530.12 215.74 542.3 212.5 C554.48 209.26 566.67 205.28 578.85 193.05 C591.03 180.82 603.22 137.48 615.4 139.12 C627.58 140.75 639.77 190.73 651.95 202.88 C664.13 215.02 682.41 210.47 688.5 211.99" fill="none" stroke="#0070c0" stroke-width="3.0" stroke-linecap="round" stroke-linejoin="round"/>
<path d="M442.4 212.5 C448.47 212.5 466.7 212.5 478.85 212.5 C491 212.5 503.15 221.11 515.3 212.5 C527.45 203.89 539.6 169.43 551.75 160.81 C563.9 152.2 576.05 152.2 588.2 160.81 C600.35 169.43 612.5 203.89 624.65 212.5 C636.8 221.11 648.95 212.5 661.1 212.5 C673.25 212.5 691.47 212.5 697.55 212.5" fill="none" stroke="#00b050" stroke-width="3.0" stroke-linecap="round" stroke-linejoin="round"/>
</g>
<rect x="468.05" y="211.35" width="2.3" height="2.3" fill="#fff" stroke="#3a3a3a" stroke-width="0.7"/>
<rect x="504.6" y="205.21" width="2.3" height="2.3" fill="#fff" stroke="#3a3a3a" stroke-width="0.7"/>
<rect x="541.15" y="146.26" width="2.3" height="2.3" fill="#fff" stroke="#3a3a3a" stroke-width="0.7"/>
<rect x="577.7" y="182.79" width="2.3" height="2.3" fill="#fff" stroke="#3a3a3a" stroke-width="0.7"/>
<rect x="614.25" y="207.67" width="2.3" height="2.3" fill="#fff" stroke="#3a3a3a" stroke-width="0.7"/>
<rect x="650.8" y="211.35" width="2.3" height="2.3" fill="#fff" stroke="#3a3a3a" stroke-width="0.7"/>
<rect x="541.15" y="211.35" width="2.3" height="2.3" fill="#fff" stroke="#3a3a3a" stroke-width="0.7"/>
<rect x="577.7" y="159.36" width="2.3" height="2.3" fill="#fff" stroke="#3a3a3a" stroke-width="0.7"/>
<rect x="614.25" y="163.65" width="2.3" height="2.3" fill="#fff" stroke="#3a3a3a" stroke-width="0.7"/>
<rect x="650.8" y="208.18" width="2.3" height="2.3" fill="#fff" stroke="#3a3a3a" stroke-width="0.7"/>
<rect x="687.35" y="211.35" width="2.3" height="2.3" fill="#fff" stroke="#3a3a3a" stroke-width="0.7"/>
<rect x="468.05" y="211.35" width="2.3" height="2.3" fill="#fff" stroke="#3a3a3a" stroke-width="0.7"/>
<rect x="504.6" y="211.35" width="2.3" height="2.3" fill="#fff" stroke="#3a3a3a" stroke-width="0.7"/>
<rect x="541.15" y="211.35" width="2.3" height="2.3" fill="#fff" stroke="#3a3a3a" stroke-width="0.7"/>
<rect x="577.7" y="191.9" width="2.3" height="2.3" fill="#fff" stroke="#3a3a3a" stroke-width="0.7"/>
<rect x="614.25" y="137.97" width="2.3" height="2.3" fill="#fff" stroke="#3a3a3a" stroke-width="0.7"/>
<rect x="650.8" y="201.73" width="2.3" height="2.3" fill="#fff" stroke="#3a3a3a" stroke-width="0.7"/>
<rect x="687.35" y="210.84" width="2.3" height="2.3" fill="#fff" stroke="#3a3a3a" stroke-width="0.7"/>
<rect x="441.25" y="211.35" width="2.3" height="2.3" fill="#fff" stroke="#3a3a3a" stroke-width="0.7"/>
<rect x="477.7" y="211.35" width="2.3" height="2.3" fill="#fff" stroke="#3a3a3a" stroke-width="0.7"/>
<rect x="514.15" y="211.35" width="2.3" height="2.3" fill="#fff" stroke="#3a3a3a" stroke-width="0.7"/>
<rect x="550.6" y="159.66" width="2.3" height="2.3" fill="#fff" stroke="#3a3a3a" stroke-width="0.7"/>
<rect x="587.05" y="159.66" width="2.3" height="2.3" fill="#fff" stroke="#3a3a3a" stroke-width="0.7"/>
<rect x="623.5" y="211.35" width="2.3" height="2.3" fill="#fff" stroke="#3a3a3a" stroke-width="0.7"/>
<rect x="659.95" y="211.35" width="2.3" height="2.3" fill="#fff" stroke="#3a3a3a" stroke-width="0.7"/>
<rect x="696.4" y="211.35" width="2.3" height="2.3" fill="#fff" stroke="#3a3a3a" stroke-width="0.7"/>
<circle cx="603.2" cy="56.6" r="1.8" fill="#ff0000" stroke="#1a1a1a" stroke-width="0.85"/>
<circle cx="573.5" cy="75.7" r="1.8" fill="#ff0000" stroke="#1a1a1a" stroke-width="0.85"/>
<circle cx="576.7" cy="81.3" r="1.8" fill="#ff0000" stroke="#1a1a1a" stroke-width="0.85"/>
<circle cx="556.8" cy="92.4" r="1.8" fill="#ff0000" stroke="#1a1a1a" stroke-width="0.85"/>
<circle cx="571.2" cy="94" r="1.8" fill="#ff0000" stroke="#1a1a1a" stroke-width="0.85"/>
<circle cx="574.6" cy="92.9" r="1.8" fill="#ff0000" stroke="#1a1a1a" stroke-width="0.85"/>
<circle cx="529.1" cy="115.5" r="1.8" fill="#ff0000" stroke="#1a1a1a" stroke-width="0.85"/>
<circle cx="537.9" cy="116.7" r="1.8" fill="#ff0000" stroke="#1a1a1a" stroke-width="0.85"/>
<circle cx="544.5" cy="113" r="1.8" fill="#ff0000" stroke="#1a1a1a" stroke-width="0.85"/>
<circle cx="544" cy="118" r="1.8" fill="#ff0000" stroke="#1a1a1a" stroke-width="0.85"/>
<circle cx="546.1" cy="120.9" r="1.8" fill="#ff0000" stroke="#1a1a1a" stroke-width="0.85"/>
<circle cx="549.6" cy="121.8" r="1.8" fill="#ff0000" stroke="#1a1a1a" stroke-width="0.85"/>
<circle cx="549.9" cy="117.8" r="1.8" fill="#ff0000" stroke="#1a1a1a" stroke-width="0.85"/>
<circle cx="549" cy="106.5" r="1.8" fill="#ff0000" stroke="#1a1a1a" stroke-width="0.85"/>
<circle cx="551.8" cy="104.5" r="1.8" fill="#ff0000" stroke="#1a1a1a" stroke-width="0.85"/>
<circle cx="555.6" cy="107" r="1.8" fill="#ff0000" stroke="#1a1a1a" stroke-width="0.85"/>
<circle cx="558.8" cy="107.9" r="1.8" fill="#ff0000" stroke="#1a1a1a" stroke-width="0.85"/>
<circle cx="560.7" cy="109.2" r="1.8" fill="#ff0000" stroke="#1a1a1a" stroke-width="0.85"/>
<circle cx="552.8" cy="111.2" r="1.8" fill="#ff0000" stroke="#1a1a1a" stroke-width="0.85"/>
<circle cx="554.4" cy="113.3" r="1.8" fill="#ff0000" stroke="#1a1a1a" stroke-width="0.85"/>
<circle cx="557.5" cy="115" r="1.8" fill="#ff0000" stroke="#1a1a1a" stroke-width="0.85"/>
<circle cx="559.4" cy="111.4" r="1.8" fill="#ff0000" stroke="#1a1a1a" stroke-width="0.85"/>
<circle cx="563.2" cy="102" r="1.8" fill="#ff0000" stroke="#1a1a1a" stroke-width="0.85"/>
<circle cx="566.4" cy="102.8" r="1.8" fill="#ff0000" stroke="#1a1a1a" stroke-width="0.85"/>
<circle cx="567.6" cy="107" r="1.8" fill="#ff0000" stroke="#1a1a1a" stroke-width="0.85"/>
<circle cx="565.9" cy="105.3" r="1.8" fill="#ff0000" stroke="#1a1a1a" stroke-width="0.85"/>
<circle cx="564.5" cy="115.2" r="1.8" fill="#ff0000" stroke="#1a1a1a" stroke-width="0.85"/>
<circle cx="569.5" cy="114.6" r="1.8" fill="#ff0000" stroke="#1a1a1a" stroke-width="0.85"/>
<circle cx="572.7" cy="98.8" r="1.8" fill="#ff0000" stroke="#1a1a1a" stroke-width="0.85"/>
<circle cx="572.7" cy="104.5" r="1.8" fill="#ff0000" stroke="#1a1a1a" stroke-width="0.85"/>
<circle cx="575.6" cy="105.1" r="1.8" fill="#ff0000" stroke="#1a1a1a" stroke-width="0.85"/>
<circle cx="578.1" cy="112.7" r="1.8" fill="#ff0000" stroke="#1a1a1a" stroke-width="0.85"/>
<circle cx="555" cy="121.3" r="1.8" fill="#ff0000" stroke="#1a1a1a" stroke-width="0.85"/>
<circle cx="558.2" cy="120.9" r="1.8" fill="#ff0000" stroke="#1a1a1a" stroke-width="0.85"/>
<circle cx="561.3" cy="119.7" r="1.8" fill="#ff0000" stroke="#1a1a1a" stroke-width="0.85"/>
<circle cx="559.7" cy="123.4" r="1.8" fill="#ff0000" stroke="#1a1a1a" stroke-width="0.85"/>
<circle cx="562" cy="125.3" r="1.8" fill="#ff0000" stroke="#1a1a1a" stroke-width="0.85"/>
<circle cx="533.5" cy="125.1" r="1.8" fill="#ff0000" stroke="#1a1a1a" stroke-width="0.85"/>
<circle cx="530.3" cy="126.6" r="1.8" fill="#ff0000" stroke="#1a1a1a" stroke-width="0.85"/>
<circle cx="572.7" cy="121.3" r="1.8" fill="#ff0000" stroke="#1a1a1a" stroke-width="0.85"/>
<circle cx="572.1" cy="124.7" r="1.8" fill="#ff0000" stroke="#1a1a1a" stroke-width="0.85"/>
<circle cx="584.1" cy="122.2" r="1.8" fill="#ff0000" stroke="#1a1a1a" stroke-width="0.85"/>
<circle cx="592" cy="100.7" r="1.8" fill="#ff0000" stroke="#1a1a1a" stroke-width="0.85"/>
<circle cx="545.5" cy="125.1" r="1.8" fill="#ff0000" stroke="#1a1a1a" stroke-width="0.85"/>
<circle cx="530.3" cy="127.8" r="1.8" fill="#ff0000" stroke="#1a1a1a" stroke-width="0.85"/>
<circle cx="533.9" cy="130.3" r="1.8" fill="#ff0000" stroke="#1a1a1a" stroke-width="0.85"/>
<circle cx="537.9" cy="127.8" r="1.8" fill="#ff0000" stroke="#1a1a1a" stroke-width="0.85"/>
<circle cx="541.1" cy="129.4" r="1.8" fill="#ff0000" stroke="#1a1a1a" stroke-width="0.85"/>
<circle cx="538.2" cy="130.3" r="1.8" fill="#ff0000" stroke="#1a1a1a" stroke-width="0.85"/>
<circle cx="546.1" cy="126.6" r="1.8" fill="#ff0000" stroke="#1a1a1a" stroke-width="0.85"/>
<circle cx="548.7" cy="130.1" r="1.8" fill="#ff0000" stroke="#1a1a1a" stroke-width="0.85"/>
<circle cx="551.2" cy="128.2" r="1.8" fill="#ff0000" stroke="#1a1a1a" stroke-width="0.85"/>
<circle cx="554.6" cy="128.8" r="1.8" fill="#ff0000" stroke="#1a1a1a" stroke-width="0.85"/>
<circle cx="551.6" cy="132" r="1.8" fill="#ff0000" stroke="#1a1a1a" stroke-width="0.85"/>
<circle cx="550.6" cy="133.8" r="1.8" fill="#ff0000" stroke="#1a1a1a" stroke-width="0.85"/>
<circle cx="554.4" cy="133.2" r="1.8" fill="#ff0000" stroke="#1a1a1a" stroke-width="0.85"/>
<circle cx="557.9" cy="132.6" r="1.8" fill="#ff0000" stroke="#1a1a1a" stroke-width="0.85"/>
<circle cx="558.8" cy="134.9" r="1.8" fill="#ff0000" stroke="#1a1a1a" stroke-width="0.85"/>
<circle cx="561.3" cy="129.8" r="1.8" fill="#ff0000" stroke="#1a1a1a" stroke-width="0.85"/>
<circle cx="564.5" cy="131.1" r="1.8" fill="#ff0000" stroke="#1a1a1a" stroke-width="0.85"/>
<circle cx="568.3" cy="129.4" r="1.8" fill="#ff0000" stroke="#1a1a1a" stroke-width="0.85"/>
<circle cx="561.9" cy="126" r="1.8" fill="#ff0000" stroke="#1a1a1a" stroke-width="0.85"/>
<circle cx="572.7" cy="133.6" r="1.8" fill="#ff0000" stroke="#1a1a1a" stroke-width="0.85"/>
<circle cx="556.3" cy="137.6" r="1.8" fill="#ff0000" stroke="#1a1a1a" stroke-width="0.85"/>
<circle cx="568.3" cy="137" r="1.8" fill="#ff0000" stroke="#1a1a1a" stroke-width="0.85"/>
<circle cx="570.8" cy="138.3" r="1.8" fill="#ff0000" stroke="#1a1a1a" stroke-width="0.85"/>
<circle cx="566.4" cy="140.8" r="1.8" fill="#ff0000" stroke="#1a1a1a" stroke-width="0.85"/>
<circle cx="563.8" cy="142.1" r="1.8" fill="#ff0000" stroke="#1a1a1a" stroke-width="0.85"/>
<circle cx="560.4" cy="141.4" r="1.8" fill="#ff0000" stroke="#1a1a1a" stroke-width="0.85"/>
<circle cx="558.2" cy="142.7" r="1.8" fill="#ff0000" stroke="#1a1a1a" stroke-width="0.85"/>
<circle cx="555" cy="145.2" r="1.8" fill="#ff0000" stroke="#1a1a1a" stroke-width="0.85"/>
<circle cx="556.3" cy="147.8" r="1.8" fill="#ff0000" stroke="#1a1a1a" stroke-width="0.85"/>
<circle cx="545.5" cy="138.3" r="1.8" fill="#ff0000" stroke="#1a1a1a" stroke-width="0.85"/>
<circle cx="548.7" cy="138.7" r="1.8" fill="#ff0000" stroke="#1a1a1a" stroke-width="0.85"/>
<circle cx="543.6" cy="140.8" r="1.8" fill="#ff0000" stroke="#1a1a1a" stroke-width="0.85"/>
<circle cx="546.8" cy="141.4" r="1.8" fill="#ff0000" stroke="#1a1a1a" stroke-width="0.85"/>
<circle cx="550.3" cy="141.7" r="1.8" fill="#ff0000" stroke="#1a1a1a" stroke-width="0.85"/>
<circle cx="545.3" cy="144" r="1.8" fill="#ff0000" stroke="#1a1a1a" stroke-width="0.85"/>
<circle cx="548.7" cy="145.2" r="1.8" fill="#ff0000" stroke="#1a1a1a" stroke-width="0.85"/>
<circle cx="539.2" cy="142.7" r="1.8" fill="#ff0000" stroke="#1a1a1a" stroke-width="0.85"/>
<circle cx="537.3" cy="147.1" r="1.8" fill="#ff0000" stroke="#1a1a1a" stroke-width="0.85"/>
<circle cx="532.9" cy="140.4" r="1.8" fill="#ff0000" stroke="#1a1a1a" stroke-width="0.85"/>
<circle cx="526.3" cy="134.5" r="1.8" fill="#ff0000" stroke="#1a1a1a" stroke-width="0.85"/>
<circle cx="525.9" cy="138.3" r="1.8" fill="#ff0000" stroke="#1a1a1a" stroke-width="0.85"/>
<circle cx="526.5" cy="140.8" r="1.8" fill="#ff0000" stroke="#1a1a1a" stroke-width="0.85"/>
<circle cx="519.6" cy="138.3" r="1.8" fill="#ff0000" stroke="#1a1a1a" stroke-width="0.85"/>
<circle cx="526.8" cy="144.6" r="1.8" fill="#ff0000" stroke="#1a1a1a" stroke-width="0.85"/>
<circle cx="530.3" cy="144.6" r="1.8" fill="#ff0000" stroke="#1a1a1a" stroke-width="0.85"/>
<circle cx="530.3" cy="147.8" r="1.8" fill="#ff0000" stroke="#1a1a1a" stroke-width="0.85"/>
<circle cx="516.4" cy="145.2" r="1.8" fill="#ff0000" stroke="#1a1a1a" stroke-width="0.85"/>
<circle cx="519.6" cy="149" r="1.8" fill="#ff0000" stroke="#1a1a1a" stroke-width="0.85"/>
<circle cx="522.5" cy="147.5" r="1.8" fill="#ff0000" stroke="#1a1a1a" stroke-width="0.85"/>
<circle cx="523.4" cy="152.2" r="1.8" fill="#ff0000" stroke="#1a1a1a" stroke-width="0.85"/>
<circle cx="519.6" cy="152.8" r="1.8" fill="#ff0000" stroke="#1a1a1a" stroke-width="0.85"/>
<circle cx="534.1" cy="152.6" r="1.8" fill="#ff0000" stroke="#1a1a1a" stroke-width="0.85"/>
<circle cx="576.5" cy="150.3" r="1.8" fill="#ff0000" stroke="#1a1a1a" stroke-width="0.85"/>
<circle cx="559.4" cy="151.5" r="1.8" fill="#ff0000" stroke="#1a1a1a" stroke-width="0.85"/>
<circle cx="587.6" cy="137" r="1.8" fill="#ff0000" stroke="#1a1a1a" stroke-width="0.85"/>
<circle cx="523.1" cy="151.1" r="1.8" fill="#ff0000" stroke="#1a1a1a" stroke-width="0.85"/>
<circle cx="551.3" cy="151.4" r="1.8" fill="#ff0000" stroke="#1a1a1a" stroke-width="0.85"/>
<circle cx="570.3" cy="143.8" r="1.8" fill="#ff0000" stroke="#1a1a1a" stroke-width="0.85"/>
<circle cx="567.6" cy="137.5" r="1.8" fill="#ff0000" stroke="#1a1a1a" stroke-width="0.85"/>
<circle cx="612.5" cy="145.1" r="1.8" fill="#ff0000" stroke="#1a1a1a" stroke-width="0.85"/>
<circle cx="613.7" cy="150.4" r="1.8" fill="#ff0000" stroke="#1a1a1a" stroke-width="0.85"/>
<circle cx="606.8" cy="152.1" r="1.8" fill="#ff0000" stroke="#1a1a1a" stroke-width="0.85"/>
<circle cx="526.7" cy="141.3" r="1.8" fill="#ff0000" stroke="#1a1a1a" stroke-width="0.85"/>
<circle cx="533" cy="140.6" r="1.8" fill="#ff0000" stroke="#1a1a1a" stroke-width="0.85"/>
<circle cx="487.8" cy="151" r="1.8" fill="#ff0000" stroke="#1a1a1a" stroke-width="0.85"/>
<circle cx="617.5" cy="30.7" r="1.8" fill="#ffc000" stroke="#1a1a1a" stroke-width="0.85"/>
<circle cx="604.9" cy="35.2" r="1.8" fill="#ffc000" stroke="#1a1a1a" stroke-width="0.85"/>
<circle cx="603.6" cy="40.9" r="1.8" fill="#ffc000" stroke="#1a1a1a" stroke-width="0.85"/>
<circle cx="604.9" cy="43.4" r="1.8" fill="#ffc000" stroke="#1a1a1a" stroke-width="0.85"/>
<circle cx="610.8" cy="41.1" r="1.8" fill="#ffc000" stroke="#1a1a1a" stroke-width="0.85"/>
<circle cx="617.5" cy="39.6" r="1.8" fill="#ffc000" stroke="#1a1a1a" stroke-width="0.85"/>
<circle cx="618.8" cy="40" r="1.8" fill="#ffc000" stroke="#1a1a1a" stroke-width="0.85"/>
<circle cx="609" cy="45" r="1.8" fill="#ffc000" stroke="#1a1a1a" stroke-width="0.85"/>
<circle cx="614.1" cy="47.8" r="1.8" fill="#ffc000" stroke="#1a1a1a" stroke-width="0.85"/>
<circle cx="622" cy="46.2" r="1.8" fill="#ffc000" stroke="#1a1a1a" stroke-width="0.85"/>
<circle cx="610" cy="50.5" r="1.8" fill="#ffc000" stroke="#1a1a1a" stroke-width="0.85"/>
<circle cx="588" cy="53.5" r="1.8" fill="#ffc000" stroke="#1a1a1a" stroke-width="0.85"/>
<circle cx="594.1" cy="56.6" r="1.8" fill="#ffc000" stroke="#1a1a1a" stroke-width="0.85"/>
<circle cx="597.9" cy="58.8" r="1.8" fill="#ffc000" stroke="#1a1a1a" stroke-width="0.85"/>
<circle cx="616.5" cy="58.8" r="1.8" fill="#ffc000" stroke="#1a1a1a" stroke-width="0.85"/>
<circle cx="594.6" cy="62" r="1.8" fill="#ffc000" stroke="#1a1a1a" stroke-width="0.85"/>
<circle cx="596.9" cy="63.3" r="1.8" fill="#ffc000" stroke="#1a1a1a" stroke-width="0.85"/>
<circle cx="600" cy="62" r="1.8" fill="#ffc000" stroke="#1a1a1a" stroke-width="0.85"/>
<circle cx="596.3" cy="67.4" r="1.8" fill="#ffc000" stroke="#1a1a1a" stroke-width="0.85"/>
<circle cx="598.8" cy="66.4" r="1.8" fill="#ffc000" stroke="#1a1a1a" stroke-width="0.85"/>
<circle cx="602" cy="66.7" r="1.8" fill="#ffc000" stroke="#1a1a1a" stroke-width="0.85"/>
<circle cx="606" cy="65.4" r="1.8" fill="#ffc000" stroke="#1a1a1a" stroke-width="0.85"/>
<circle cx="607.6" cy="67.4" r="1.8" fill="#ffc000" stroke="#1a1a1a" stroke-width="0.85"/>
<circle cx="584.5" cy="68.3" r="1.8" fill="#ffc000" stroke="#1a1a1a" stroke-width="0.85"/>
<circle cx="590.3" cy="68.3" r="1.8" fill="#ffc000" stroke="#1a1a1a" stroke-width="0.85"/>
<circle cx="590.6" cy="70.2" r="1.8" fill="#ffc000" stroke="#1a1a1a" stroke-width="0.85"/>
<circle cx="598.4" cy="70.2" r="1.8" fill="#ffc000" stroke="#1a1a1a" stroke-width="0.85"/>
<circle cx="600.4" cy="72.1" r="1.8" fill="#ffc000" stroke="#1a1a1a" stroke-width="0.85"/>
<circle cx="591.6" cy="76.3" r="1.8" fill="#ffc000" stroke="#1a1a1a" stroke-width="0.85"/>
<circle cx="590.6" cy="79.7" r="1.8" fill="#ffc000" stroke="#1a1a1a" stroke-width="0.85"/>
<circle cx="584.9" cy="79.7" r="1.8" fill="#ffc000" stroke="#1a1a1a" stroke-width="0.85"/>
<circle cx="596.9" cy="80.1" r="1.8" fill="#ffc000" stroke="#1a1a1a" stroke-width="0.85"/>
<circle cx="602" cy="76.8" r="1.8" fill="#ffc000" stroke="#1a1a1a" stroke-width="0.85"/>
<circle cx="605.7" cy="77.2" r="1.8" fill="#ffc000" stroke="#1a1a1a" stroke-width="0.85"/>
<circle cx="610.2" cy="80.1" r="1.8" fill="#ffc000" stroke="#1a1a1a" stroke-width="0.85"/>
<circle cx="627" cy="71.7" r="1.8" fill="#ffc000" stroke="#1a1a1a" stroke-width="0.85"/>
<circle cx="630.8" cy="80.1" r="1.8" fill="#ffc000" stroke="#1a1a1a" stroke-width="0.85"/>
<circle cx="578" cy="81.8" r="1.8" fill="#ffc000" stroke="#1a1a1a" stroke-width="0.85"/>
<circle cx="584.1" cy="85" r="1.8" fill="#ffc000" stroke="#1a1a1a" stroke-width="0.85"/>
<circle cx="580.2" cy="88.5" r="1.8" fill="#ffc000" stroke="#1a1a1a" stroke-width="0.85"/>
<circle cx="577.8" cy="90.1" r="1.8" fill="#ffc000" stroke="#1a1a1a" stroke-width="0.85"/>
<circle cx="577.8" cy="98.3" r="1.8" fill="#ffc000" stroke="#1a1a1a" stroke-width="0.85"/>
<circle cx="584.9" cy="95.6" r="1.8" fill="#ffc000" stroke="#1a1a1a" stroke-width="0.85"/>
<circle cx="588.1" cy="94" r="1.8" fill="#ffc000" stroke="#1a1a1a" stroke-width="0.85"/>
<circle cx="595" cy="85.7" r="1.8" fill="#ffc000" stroke="#1a1a1a" stroke-width="0.85"/>
<circle cx="595" cy="88.2" r="1.8" fill="#ffc000" stroke="#1a1a1a" stroke-width="0.85"/>
<circle cx="599.4" cy="88.6" r="1.8" fill="#ffc000" stroke="#1a1a1a" stroke-width="0.85"/>
<circle cx="602.6" cy="87" r="1.8" fill="#ffc000" stroke="#1a1a1a" stroke-width="0.85"/>
<circle cx="604.5" cy="85.1" r="1.8" fill="#ffc000" stroke="#1a1a1a" stroke-width="0.85"/>
<circle cx="603.8" cy="88.2" r="1.8" fill="#ffc000" stroke="#1a1a1a" stroke-width="0.85"/>
<circle cx="606.4" cy="91.4" r="1.8" fill="#ffc000" stroke="#1a1a1a" stroke-width="0.85"/>
<circle cx="598.4" cy="92.4" r="1.8" fill="#ffc000" stroke="#1a1a1a" stroke-width="0.85"/>
<circle cx="590.6" cy="92.6" r="1.8" fill="#ffc000" stroke="#1a1a1a" stroke-width="0.85"/>
<circle cx="594.4" cy="81.9" r="1.8" fill="#ffc000" stroke="#1a1a1a" stroke-width="0.85"/>
<circle cx="590.6" cy="81" r="1.8" fill="#ffc000" stroke="#1a1a1a" stroke-width="0.85"/>
<circle cx="610.8" cy="95.8" r="1.8" fill="#ffc000" stroke="#1a1a1a" stroke-width="0.85"/>
<circle cx="609.9" cy="98.7" r="1.8" fill="#ffc000" stroke="#1a1a1a" stroke-width="0.85"/>
<circle cx="612.7" cy="98.7" r="1.8" fill="#ffc000" stroke="#1a1a1a" stroke-width="0.85"/>
<circle cx="599.8" cy="98.7" r="1.8" fill="#ffc000" stroke="#1a1a1a" stroke-width="0.85"/>
<circle cx="622.6" cy="100" r="1.8" fill="#ffc000" stroke="#1a1a1a" stroke-width="0.85"/>
<circle cx="626.9" cy="101.2" r="1.8" fill="#ffc000" stroke="#1a1a1a" stroke-width="0.85"/>
<circle cx="607" cy="101.5" r="1.8" fill="#ffc000" stroke="#1a1a1a" stroke-width="0.85"/>
<circle cx="611.4" cy="103" r="1.8" fill="#ffc000" stroke="#1a1a1a" stroke-width="0.85"/>
<circle cx="617.5" cy="103.4" r="1.8" fill="#ffc000" stroke="#1a1a1a" stroke-width="0.85"/>
<circle cx="627.2" cy="105.9" r="1.8" fill="#ffc000" stroke="#1a1a1a" stroke-width="0.85"/>
<circle cx="603.8" cy="106.5" r="1.8" fill="#ffc000" stroke="#1a1a1a" stroke-width="0.85"/>
<circle cx="607.6" cy="107.2" r="1.8" fill="#ffc000" stroke="#1a1a1a" stroke-width="0.85"/>
<circle cx="608.9" cy="108.8" r="1.8" fill="#ffc000" stroke="#1a1a1a" stroke-width="0.85"/>
<circle cx="609.9" cy="111.4" r="1.8" fill="#ffc000" stroke="#1a1a1a" stroke-width="0.85"/>
<circle cx="591.6" cy="96.4" r="1.8" fill="#ffc000" stroke="#1a1a1a" stroke-width="0.85"/>
<circle cx="595.6" cy="98.3" r="1.8" fill="#ffc000" stroke="#1a1a1a" stroke-width="0.85"/>
<circle cx="584.9" cy="99.6" r="1.8" fill="#ffc000" stroke="#1a1a1a" stroke-width="0.85"/>
<circle cx="584.2" cy="103.4" r="1.8" fill="#ffc000" stroke="#1a1a1a" stroke-width="0.85"/>
<circle cx="584.2" cy="107.2" r="1.8" fill="#ffc000" stroke="#1a1a1a" stroke-width="0.85"/>
<circle cx="583.6" cy="108.8" r="1.8" fill="#ffc000" stroke="#1a1a1a" stroke-width="0.85"/>
<circle cx="586.8" cy="109.3" r="1.8" fill="#ffc000" stroke="#1a1a1a" stroke-width="0.85"/>
<circle cx="589.9" cy="104" r="1.8" fill="#ffc000" stroke="#1a1a1a" stroke-width="0.85"/>
<circle cx="590.6" cy="106.5" r="1.8" fill="#ffc000" stroke="#1a1a1a" stroke-width="0.85"/>
<circle cx="594.4" cy="105" r="1.8" fill="#ffc000" stroke="#1a1a1a" stroke-width="0.85"/>
<circle cx="577.9" cy="107.6" r="1.8" fill="#ffc000" stroke="#1a1a1a" stroke-width="0.85"/>
<circle cx="568.9" cy="118" r="1.8" fill="#ffc000" stroke="#1a1a1a" stroke-width="0.85"/>
<circle cx="574" cy="123.4" r="1.8" fill="#ffc000" stroke="#1a1a1a" stroke-width="0.85"/>
<circle cx="575.9" cy="125.1" r="1.8" fill="#ffc000" stroke="#1a1a1a" stroke-width="0.85"/>
<circle cx="580.9" cy="120.3" r="1.8" fill="#ffc000" stroke="#1a1a1a" stroke-width="0.85"/>
<circle cx="580.9" cy="125.1" r="1.8" fill="#ffc000" stroke="#1a1a1a" stroke-width="0.85"/>
<circle cx="587.2" cy="113.3" r="1.8" fill="#ffc000" stroke="#1a1a1a" stroke-width="0.85"/>
<circle cx="590" cy="114.6" r="1.8" fill="#ffc000" stroke="#1a1a1a" stroke-width="0.85"/>
<circle cx="593.6" cy="117.1" r="1.8" fill="#ffc000" stroke="#1a1a1a" stroke-width="0.85"/>
<circle cx="596.1" cy="112.7" r="1.8" fill="#ffc000" stroke="#1a1a1a" stroke-width="0.85"/>
<circle cx="598" cy="113.7" r="1.8" fill="#ffc000" stroke="#1a1a1a" stroke-width="0.85"/>
<circle cx="587.9" cy="123.4" r="1.8" fill="#ffc000" stroke="#1a1a1a" stroke-width="0.85"/>
<circle cx="591" cy="124.7" r="1.8" fill="#ffc000" stroke="#1a1a1a" stroke-width="0.85"/>
<circle cx="594.8" cy="122.2" r="1.8" fill="#ffc000" stroke="#1a1a1a" stroke-width="0.85"/>
<circle cx="629.8" cy="115.7" r="1.8" fill="#ffc000" stroke="#1a1a1a" stroke-width="0.85"/>
<circle cx="633.6" cy="115.7" r="1.8" fill="#ffc000" stroke="#1a1a1a" stroke-width="0.85"/>
<circle cx="641.5" cy="125.4" r="1.8" fill="#ffc000" stroke="#1a1a1a" stroke-width="0.85"/>
<circle cx="634.2" cy="129.6" r="1.8" fill="#ffc000" stroke="#1a1a1a" stroke-width="0.85"/>
<circle cx="635.7" cy="131.5" r="1.8" fill="#ffc000" stroke="#1a1a1a" stroke-width="0.85"/>
<circle cx="635.2" cy="133.4" r="1.8" fill="#ffc000" stroke="#1a1a1a" stroke-width="0.85"/>
<circle cx="645.8" cy="138.1" r="1.8" fill="#ffc000" stroke="#1a1a1a" stroke-width="0.85"/>
<circle cx="620.3" cy="126.2" r="1.8" fill="#ffc000" stroke="#1a1a1a" stroke-width="0.85"/>
<circle cx="622.2" cy="128.7" r="1.8" fill="#ffc000" stroke="#1a1a1a" stroke-width="0.85"/>
<circle cx="615.9" cy="112.5" r="1.8" fill="#ffc000" stroke="#1a1a1a" stroke-width="0.85"/>
<circle cx="612.7" cy="113.5" r="1.8" fill="#ffc000" stroke="#1a1a1a" stroke-width="0.85"/>
<circle cx="610.8" cy="117" r="1.8" fill="#ffc000" stroke="#1a1a1a" stroke-width="0.85"/>
<circle cx="607.6" cy="119.5" r="1.8" fill="#ffc000" stroke="#1a1a1a" stroke-width="0.85"/>
<circle cx="610.2" cy="121.1" r="1.8" fill="#ffc000" stroke="#1a1a1a" stroke-width="0.85"/>
<circle cx="603.8" cy="121.4" r="1.8" fill="#ffc000" stroke="#1a1a1a" stroke-width="0.85"/>
<circle cx="600.7" cy="122.4" r="1.8" fill="#ffc000" stroke="#1a1a1a" stroke-width="0.85"/>
<circle cx="603.2" cy="125.2" r="1.8" fill="#ffc000" stroke="#1a1a1a" stroke-width="0.85"/>
<circle cx="608.3" cy="125.8" r="1.8" fill="#ffc000" stroke="#1a1a1a" stroke-width="0.85"/>
<circle cx="614" cy="126.7" r="1.8" fill="#ffc000" stroke="#1a1a1a" stroke-width="0.85"/>
<circle cx="613.3" cy="128.3" r="1.8" fill="#ffc000" stroke="#1a1a1a" stroke-width="0.85"/>
<circle cx="610.2" cy="129" r="1.8" fill="#ffc000" stroke="#1a1a1a" stroke-width="0.85"/>
<circle cx="606.4" cy="128.3" r="1.8" fill="#ffc000" stroke="#1a1a1a" stroke-width="0.85"/>
<circle cx="601.3" cy="129" r="1.8" fill="#ffc000" stroke="#1a1a1a" stroke-width="0.85"/>
<circle cx="604.1" cy="130.2" r="1.8" fill="#ffc000" stroke="#1a1a1a" stroke-width="0.85"/>
<circle cx="607.6" cy="130.9" r="1.8" fill="#ffc000" stroke="#1a1a1a" stroke-width="0.85"/>
<circle cx="600.7" cy="132.1" r="1.8" fill="#ffc000" stroke="#1a1a1a" stroke-width="0.85"/>
<circle cx="605.1" cy="133.4" r="1.8" fill="#ffc000" stroke="#1a1a1a" stroke-width="0.85"/>
<circle cx="598.2" cy="133.8" r="1.8" fill="#ffc000" stroke="#1a1a1a" stroke-width="0.85"/>
<circle cx="603.8" cy="136.5" r="1.8" fill="#ffc000" stroke="#1a1a1a" stroke-width="0.85"/>
<circle cx="600.1" cy="137.6" r="1.8" fill="#ffc000" stroke="#1a1a1a" stroke-width="0.85"/>
<circle cx="608.7" cy="137.8" r="1.8" fill="#ffc000" stroke="#1a1a1a" stroke-width="0.85"/>
<circle cx="612.7" cy="135.9" r="1.8" fill="#ffc000" stroke="#1a1a1a" stroke-width="0.85"/>
<circle cx="616.5" cy="135.3" r="1.8" fill="#ffc000" stroke="#1a1a1a" stroke-width="0.85"/>
<circle cx="612.4" cy="138.8" r="1.8" fill="#ffc000" stroke="#1a1a1a" stroke-width="0.85"/>
<circle cx="605.1" cy="139.1" r="1.8" fill="#ffc000" stroke="#1a1a1a" stroke-width="0.85"/>
<circle cx="596.3" cy="115.1" r="1.8" fill="#ffc000" stroke="#1a1a1a" stroke-width="0.85"/>
<circle cx="596.9" cy="118.8" r="1.8" fill="#ffc000" stroke="#1a1a1a" stroke-width="0.85"/>
<circle cx="596.3" cy="122.6" r="1.8" fill="#ffc000" stroke="#1a1a1a" stroke-width="0.85"/>
<circle cx="596.3" cy="125.8" r="1.8" fill="#ffc000" stroke="#1a1a1a" stroke-width="0.85"/>
<circle cx="598.2" cy="113.2" r="1.8" fill="#ffc000" stroke="#1a1a1a" stroke-width="0.85"/>
<circle cx="575.9" cy="134.5" r="1.8" fill="#ffc000" stroke="#1a1a1a" stroke-width="0.85"/>
<circle cx="580.9" cy="129.8" r="1.8" fill="#ffc000" stroke="#1a1a1a" stroke-width="0.85"/>
<circle cx="580.9" cy="133.6" r="1.8" fill="#ffc000" stroke="#1a1a1a" stroke-width="0.85"/>
<circle cx="583.4" cy="127.5" r="1.8" fill="#ffc000" stroke="#1a1a1a" stroke-width="0.85"/>
<circle cx="586" cy="127.5" r="1.8" fill="#ffc000" stroke="#1a1a1a" stroke-width="0.85"/>
<circle cx="588.5" cy="130.7" r="1.8" fill="#ffc000" stroke="#1a1a1a" stroke-width="0.85"/>
<circle cx="586" cy="136.4" r="1.8" fill="#ffc000" stroke="#1a1a1a" stroke-width="0.85"/>
<circle cx="579" cy="139.5" r="1.8" fill="#ffc000" stroke="#1a1a1a" stroke-width="0.85"/>
<circle cx="591" cy="140.2" r="1.8" fill="#ffc000" stroke="#1a1a1a" stroke-width="0.85"/>
<circle cx="593.6" cy="141.2" r="1.8" fill="#ffc000" stroke="#1a1a1a" stroke-width="0.85"/>
<circle cx="578.4" cy="145.2" r="1.8" fill="#ffc000" stroke="#1a1a1a" stroke-width="0.85"/>
<circle cx="580.9" cy="145.9" r="1.8" fill="#ffc000" stroke="#1a1a1a" stroke-width="0.85"/>
<circle cx="583.4" cy="148.4" r="1.8" fill="#ffc000" stroke="#1a1a1a" stroke-width="0.85"/>
<circle cx="587.2" cy="147.8" r="1.8" fill="#ffc000" stroke="#1a1a1a" stroke-width="0.85"/>
<circle cx="590.8" cy="144.6" r="1.8" fill="#ffc000" stroke="#1a1a1a" stroke-width="0.85"/>
<circle cx="594.2" cy="147.8" r="1.8" fill="#ffc000" stroke="#1a1a1a" stroke-width="0.85"/>
<circle cx="587.2" cy="152.2" r="1.8" fill="#ffc000" stroke="#1a1a1a" stroke-width="0.85"/>
<circle cx="591" cy="152.8" r="1.8" fill="#ffc000" stroke="#1a1a1a" stroke-width="0.85"/>
<circle cx="568.9" cy="141.4" r="1.8" fill="#ffc000" stroke="#1a1a1a" stroke-width="0.85"/>
<circle cx="571.4" cy="144" r="1.8" fill="#ffc000" stroke="#1a1a1a" stroke-width="0.85"/>
<circle cx="561.9" cy="145.2" r="1.8" fill="#ffc000" stroke="#1a1a1a" stroke-width="0.85"/>
<circle cx="561.9" cy="152.2" r="1.8" fill="#ffc000" stroke="#1a1a1a" stroke-width="0.85"/>
<circle cx="565.1" cy="153.4" r="1.8" fill="#ffc000" stroke="#1a1a1a" stroke-width="0.85"/>
<circle cx="593.6" cy="125.6" r="1.8" fill="#ffc000" stroke="#1a1a1a" stroke-width="0.85"/>
<circle cx="599.2" cy="134.5" r="1.8" fill="#ffc000" stroke="#1a1a1a" stroke-width="0.85"/>
<circle cx="599.2" cy="145.2" r="1.8" fill="#ffc000" stroke="#1a1a1a" stroke-width="0.85"/>
<circle cx="649.1" cy="147.6" r="1.8" fill="#ffc000" stroke="#1a1a1a" stroke-width="0.85"/>
<circle cx="592.9" cy="149.5" r="1.8" fill="#ffc000" stroke="#1a1a1a" stroke-width="0.85"/>
<circle cx="600.2" cy="145.4" r="1.8" fill="#ffc000" stroke="#1a1a1a" stroke-width="0.85"/>
<circle cx="580.2" cy="135.6" r="1.8" fill="#ffc000" stroke="#1a1a1a" stroke-width="0.85"/>
<circle cx="585.9" cy="136.3" r="1.8" fill="#ffc000" stroke="#1a1a1a" stroke-width="0.85"/>
<circle cx="604.2" cy="136.9" r="1.8" fill="#ffc000" stroke="#1a1a1a" stroke-width="0.85"/>
<circle cx="611.8" cy="138.2" r="1.8" fill="#ffc000" stroke="#1a1a1a" stroke-width="0.85"/>
<circle cx="616.6" cy="135.3" r="1.8" fill="#ffc000" stroke="#1a1a1a" stroke-width="0.85"/>
<circle cx="620.5" cy="126.6" r="1.8" fill="#ffc000" stroke="#1a1a1a" stroke-width="0.85"/>
<circle cx="618.1" cy="74.9" r="1.8" fill="#0070c0" stroke="#1a1a1a" stroke-width="0.85"/>
<circle cx="621.5" cy="77.2" r="1.8" fill="#0070c0" stroke="#1a1a1a" stroke-width="0.85"/>
<circle cx="616.5" cy="89.5" r="1.8" fill="#0070c0" stroke="#1a1a1a" stroke-width="0.85"/>
<circle cx="626.5" cy="90.1" r="1.8" fill="#0070c0" stroke="#1a1a1a" stroke-width="0.85"/>
<circle cx="629.8" cy="92.5" r="1.8" fill="#0070c0" stroke="#1a1a1a" stroke-width="0.85"/>
<circle cx="643" cy="84.4" r="1.8" fill="#0070c0" stroke="#1a1a1a" stroke-width="0.85"/>
<circle cx="594.4" cy="96.2" r="1.8" fill="#0070c0" stroke="#1a1a1a" stroke-width="0.85"/>
<circle cx="601" cy="102.3" r="1.8" fill="#0070c0" stroke="#1a1a1a" stroke-width="0.85"/>
<circle cx="596.9" cy="108.8" r="1.8" fill="#0070c0" stroke="#1a1a1a" stroke-width="0.85"/>
<circle cx="611.6" cy="105.9" r="1.8" fill="#0070c0" stroke="#1a1a1a" stroke-width="0.85"/>
<circle cx="626.6" cy="111.8" r="1.8" fill="#0070c0" stroke="#1a1a1a" stroke-width="0.85"/>
<circle cx="599.2" cy="117.8" r="1.8" fill="#0070c0" stroke="#1a1a1a" stroke-width="0.85"/>
<circle cx="623.1" cy="115.3" r="1.8" fill="#0070c0" stroke="#1a1a1a" stroke-width="0.85"/>
<circle cx="639" cy="120.7" r="1.8" fill="#0070c0" stroke="#1a1a1a" stroke-width="0.85"/>
<circle cx="607.4" cy="122.6" r="1.8" fill="#0070c0" stroke="#1a1a1a" stroke-width="0.85"/>
<circle cx="601.1" cy="135.3" r="1.8" fill="#0070c0" stroke="#1a1a1a" stroke-width="0.85"/>
<circle cx="595.6" cy="129.6" r="1.8" fill="#0070c0" stroke="#1a1a1a" stroke-width="0.85"/>
<circle cx="591.3" cy="134.1" r="1.8" fill="#0070c0" stroke="#1a1a1a" stroke-width="0.85"/>
<circle cx="604.9" cy="140.7" r="1.8" fill="#0070c0" stroke="#1a1a1a" stroke-width="0.85"/>
<circle cx="604.9" cy="152.7" r="1.8" fill="#0070c0" stroke="#1a1a1a" stroke-width="0.85"/>
<circle cx="552.9" cy="75.6" r="2.4" fill="#00b050" stroke="#1a1a1a" stroke-width="0.6"/>
<circle cx="589.2" cy="73.9" r="2.4" fill="#00b050" stroke="#1a1a1a" stroke-width="0.6"/>
<circle cx="670.7" cy="22.5" r="1.8" fill="#ff0000" stroke="#1a1a1a" stroke-width="0.5"/>
<text x="678.6" y="26.2" font-family='"Liberation Sans", sans-serif' font-size="9.8" font-weight="normal" fill="#262626" text-anchor="start" textLength="16.6" lengthAdjust="spacingAndGlyphs" stroke="#262626" stroke-width="0.22">B01</text>
<circle cx="670.7" cy="41" r="1.8" fill="#ffc000" stroke="#1a1a1a" stroke-width="0.5"/>
<text x="678.6" y="44.7" font-family='"Liberation Sans", sans-serif' font-size="9.8" font-weight="normal" fill="#262626" text-anchor="start" textLength="16.6" lengthAdjust="spacingAndGlyphs" stroke="#262626" stroke-width="0.22">B02</text>
<circle cx="670.7" cy="59.5" r="1.8" fill="#0070c0" stroke="#1a1a1a" stroke-width="0.5"/>
<text x="678.6" y="63.2" font-family='"Liberation Sans", sans-serif' font-size="9.8" font-weight="normal" fill="#262626" text-anchor="start" textLength="16.6" lengthAdjust="spacingAndGlyphs" stroke="#262626" stroke-width="0.22">B03</text>
<circle cx="670.7" cy="78" r="2.4" fill="#00b050" stroke="#1a1a1a" stroke-width="0.5"/>
<text x="678.6" y="81.7" font-family='"Liberation Sans", sans-serif' font-size="9.8" font-weight="normal" fill="#262626" text-anchor="start" textLength="16.6" lengthAdjust="spacingAndGlyphs" stroke="#262626" stroke-width="0.22">B04</text>
<line x1="665" y1="97.2" x2="677.6" y2="97.2" stroke="#ff0000" stroke-width="2.8"/>
<rect x="670.1" y="96" width="2.4" height="2.4" fill="#fff" stroke="#3a3a3a" stroke-width="0.7"/>
<text x="678.6" y="100.9" font-family='"Liberation Sans", sans-serif' font-size="9.8" font-weight="normal" fill="#262626" text-anchor="start" textLength="26.3" lengthAdjust="spacingAndGlyphs" stroke="#262626" stroke-width="0.22">B01 H</text>
<line x1="665" y1="115.8" x2="677.6" y2="115.8" stroke="#ffc000" stroke-width="2.8"/>
<rect x="670.1" y="114.6" width="2.4" height="2.4" fill="#fff" stroke="#3a3a3a" stroke-width="0.7"/>
<text x="678.6" y="119.5" font-family='"Liberation Sans", sans-serif' font-size="9.8" font-weight="normal" fill="#262626" text-anchor="start" textLength="26.3" lengthAdjust="spacingAndGlyphs" stroke="#262626" stroke-width="0.22">B02 H</text>
<line x1="665" y1="134.4" x2="677.6" y2="134.4" stroke="#0070c0" stroke-width="2.8"/>
<rect x="670.1" y="133.2" width="2.4" height="2.4" fill="#fff" stroke="#3a3a3a" stroke-width="0.7"/>
<text x="678.6" y="138.1" font-family='"Liberation Sans", sans-serif' font-size="9.8" font-weight="normal" fill="#262626" text-anchor="start" textLength="26.3" lengthAdjust="spacingAndGlyphs" stroke="#262626" stroke-width="0.22">B03 H</text>
<line x1="665" y1="153" x2="677.6" y2="153" stroke="#00b050" stroke-width="2.8"/>
<rect x="670.1" y="151.8" width="2.4" height="2.4" fill="#fff" stroke="#3a3a3a" stroke-width="0.7"/>
<text x="678.6" y="156.7" font-family='"Liberation Sans", sans-serif' font-size="9.8" font-weight="normal" fill="#262626" text-anchor="start" textLength="26.3" lengthAdjust="spacingAndGlyphs" stroke="#262626" stroke-width="0.22">B04 H</text></svg>
</body></html>
